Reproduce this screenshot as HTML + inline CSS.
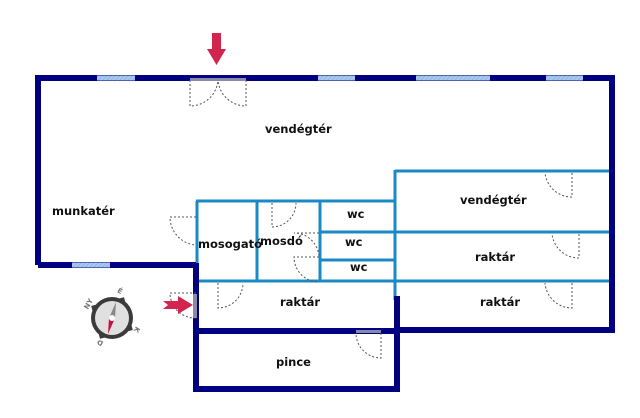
<!DOCTYPE html>
<html><head><meta charset="utf-8"><style>
html,body{margin:0;padding:0;background:#fff;}
svg{display:block;}
text{font-family:"DejaVu Sans","Liberation Sans",sans-serif;font-weight:bold;font-size:11.5px;fill:#111;}
</style></head><body>
<svg width="640" height="418" viewBox="0 0 640 418" xmlns="http://www.w3.org/2000/svg">
<defs>
<pattern id="hatch" width="3" height="3" patternUnits="userSpaceOnUse" patternTransform="rotate(45)">
<rect width="3" height="3" fill="#a9c9ec"/><line x1="0" y1="0" x2="0" y2="3" stroke="#7aa6d8" stroke-width="1"/></pattern>
</defs>
<!-- light blue inner walls -->
<g stroke="#1a8ac6" stroke-width="3" fill="none">
<line x1="196" y1="201" x2="396" y2="201"/>
<line x1="395" y1="171" x2="612" y2="171"/>
<line x1="395" y1="170" x2="395" y2="300"/>
<line x1="395" y1="232" x2="612" y2="232"/>
<line x1="196" y1="281" x2="612" y2="281"/>
<line x1="257" y1="201" x2="257" y2="281"/>
<line x1="320" y1="201" x2="320" y2="281"/>
<line x1="320" y1="232" x2="395" y2="232"/>
<line x1="320" y1="260" x2="395" y2="260"/>
<line x1="197" y1="201" x2="197" y2="265"/>
</g>
<!-- navy walls -->
<g stroke="#000080" stroke-width="6" fill="none" stroke-linejoin="miter">
<polyline points="38,265 38,78 612,78 612,330 397,330"/>
<line x1="38" y1="265" x2="196" y2="265"/>
<polyline points="196,263 196,389 397,389 397,296"/>
<line x1="196" y1="331" x2="397" y2="331"/>
</g>
<!-- windows -->
<g fill="url(#hatch)">
<rect x="97" y="75.5" width="38" height="5"/>
<rect x="318" y="75.5" width="37" height="5"/>
<rect x="416" y="75.5" width="74" height="5"/>
<rect x="546" y="75.5" width="37" height="5"/>
<rect x="72" y="262.5" width="38" height="5"/>
</g>
<!-- doors -->
<g fill="none" stroke="#555" stroke-width="1" stroke-dasharray="2,2">
<path d="M190,80 V106 A28,28 0 0 0 218,80"/>
<path d="M246,80 V106 A28,28 0 0 1 218,80"/>
<path d="M196,217 H170 A28,28 0 0 0 196,245"/>
<path d="M272,203 V227 A24,24 0 0 0 296,203"/>
<path d="M319,233 H294 A25,25 0 0 1 319,258"/>
<path d="M319,257 H294 A25,25 0 0 0 319,282"/>
<path d="M218,283 V308 A25,25 0 0 0 243,283"/>
<path d="M196,293 H170 A25,25 0 0 0 196,318"/>
<path d="M381,333 V358 A25,25 0 0 1 356,333"/>
<path d="M572,173 V197 A27,27 0 0 1 545,173"/>
<path d="M579,234 V258 A27,27 0 0 1 552,234"/>
<path d="M572,283 V308 A27,27 0 0 1 545,283"/>
</g>
<g fill="#8a8aa8">
<rect x="190" y="78" width="56" height="3"/>
<rect x="356" y="330" width="25" height="3"/>
<rect x="193" y="294" width="4" height="24"/>
</g>
<!-- arrows -->
<path d="M212,33 H221 V49 H226 L216.5,65 L207,49 H212 Z" fill="#d1244e"/>
<path d="M163,301 L168,305 L163,309 H178 V314 L193,305 L178,296 V301 Z" fill="#d1244e"/>
<!-- compass -->
<g transform="translate(112,318)">
<circle r="21" fill="#3b3b3b"/>
<circle r="17" fill="#e0e0e0"/>
<path d="M0,-24 L5,-19 H-5Z" fill="#3b3b3b" transform="rotate(30)"/>
<path d="M0,-24 L5,-19 H-5Z" fill="#3b3b3b" transform="rotate(120)"/>
<path d="M0,-24 L5,-19 H-5Z" fill="#3b3b3b" transform="rotate(210)"/>
<path d="M0,-24 L5,-19 H-5Z" fill="#3b3b3b" transform="rotate(300)"/>
<path d="M-3,0 L4,-16 L3,0Z" fill="#888"/>
<path d="M-3,0 L-4,16 L3,0Z" fill="#c8103e"/>
<circle r="3" fill="#fff"/>
<g style="font-size:7px;fill:#777">
<text x="-9" y="-25" transform="rotate(30)" style="font-size:7px;fill:#777">É</text>
<text x="-5" y="-25" transform="rotate(120)" style="font-size:7px;fill:#777">K</text>
<text x="-5" y="-25" transform="rotate(210)" style="font-size:7px;fill:#777">D</text>
<text x="-5" y="-25" transform="rotate(300)" style="font-size:7px;fill:#777">NY</text>
</g>
</g>
<!-- labels -->
<text x="265" y="133">vendégtér</text>
<text x="52" y="215">munkatér</text>
<text x="198" y="248">mosogató</text>
<text x="260" y="245">mosdó</text>
<text x="347" y="218">wc</text>
<text x="345" y="246">wc</text>
<text x="350" y="271">wc</text>
<text x="460" y="204">vendégtér</text>
<text x="475" y="261">raktár</text>
<text x="480" y="306">raktár</text>
<text x="280" y="306">raktár</text>
<text x="276" y="366">pince</text>
</svg>
</body></html>
